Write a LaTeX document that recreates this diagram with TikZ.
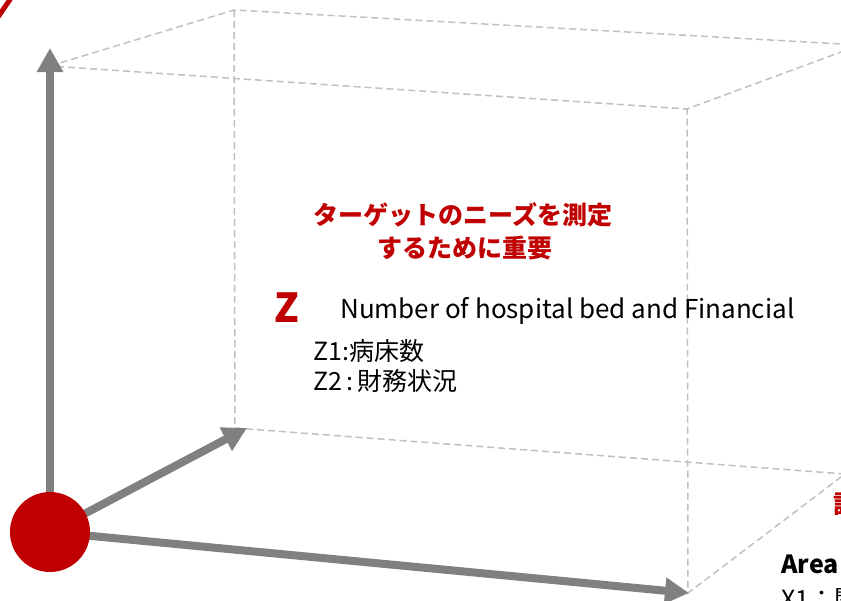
\documentclass[tikz,border=0pt]{standalone}
\usepackage{fontspec}
\setmainfont{Noto Sans CJK JP}
\usetikzlibrary{arrows.meta}
\definecolor{axisgray}{HTML}{808080}
\definecolor{boxgray}{HTML}{C0C0C0}
\definecolor{accent}{HTML}{C00000}
\tikzset{
  axisarrow/.style={draw=axisgray, line width=8pt, -{Triangle[length=24pt,width=25pt]}},
  boxedge/.style={draw=boxgray, line width=1.5pt, dash pattern=on 7pt off 4pt},
  redlabel/.style={text=accent, font=\bfseries\fontsize{25}{30}\selectfont, inner sep=0pt},
  bodytext/.style={text=black, font=\fontsize{25}{30}\selectfont, inner sep=0pt, anchor=base west},
}
\begin{document}
\begin{tikzpicture}[x=1pt, y=-1pt]
\useasboundingbox (0,0) rectangle (841,600);
\clip (0,0) rectangle (841,600);
% box corners
\coordinate (A) at (50,66);
\coordinate (B) at (234,10);
\coordinate (C) at (687,109);
\coordinate (D) at (860,45);
\coordinate (E) at (235,428);
\coordinate (F) at (688,593);
\coordinate (G) at (845,474);
\coordinate (O) at (50,532);
\coordinate (ztip) at (50,48);
\coordinate (ytip) at (247,428);
\coordinate (xtip) at (689,593);
% dashed box
\draw[boxedge] (A) -- (B) -- (D) -- (C) -- cycle;
\draw[boxedge] (B) -- (E) -- (G) -- (F) -- (C);
% red arc fragment top-left
\draw[accent, line width=5pt] (-2,17) -- (11,-2);
% axes
\draw[axisarrow] (O) -- (ztip);
\draw[axisarrow] (O) -- (ytip);
\draw[axisarrow] (O) -- (xtip);
\node[circle, fill=accent, minimum size=80pt, inner sep=0pt] (origin) at (O) {};
% texts
\node[redlabel, anchor=base] (need1) at (463,224) {ターゲットのニーズを測定};
\node[redlabel, anchor=base] (need2) at (465,257) {するために重要};
\node[text=accent, font=\bfseries\fontsize{40}{44}\selectfont, inner sep=0pt, anchor=base] (zlab) at (287,322) {Z};
\node[text=black, font=\fontsize{26}{30}\selectfont, inner sep=0pt, anchor=base west] (ztitle) at (340,318) {Number of hospital bed and Financial};
\node[bodytext] (z1) at (313,360) {Z1:病床数};
\node[bodytext] (z2) at (313,390) {Z2\,:\,財務状況};
\node[redlabel, anchor=base west] (xred) at (833,513) {計};
\node[text=black, font=\bfseries\fontsize{25}{30}\selectfont, inner sep=0pt, anchor=base west] (area) at (781,573) {Area};
\node[bodytext] (x1) at (781,608) {X1：関};
\end{tikzpicture}
\end{document}
